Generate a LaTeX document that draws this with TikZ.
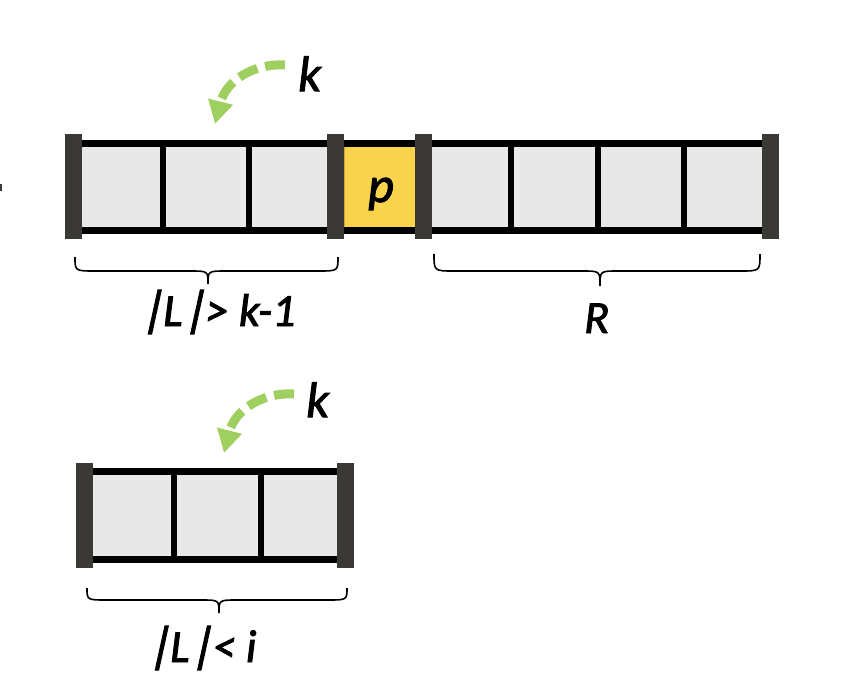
\documentclass[tikz,border=0pt]{standalone}
\usepackage{fontspec}
\setmainfont{Carlito}
\newfontface\lblface[FakeBold=2]{Carlito Italic}
\newfontface\barface[FakeSlant=0.22,FakeBold=2]{Carlito}
\usetikzlibrary{arrows.meta}
\definecolor{cellgray}{HTML}{E8E8E8}
\definecolor{bardark}{HTML}{3B3936}
\definecolor{pyellow}{HTML}{F8D34B}
\definecolor{pyellowdark}{HTML}{C8A63A}
\definecolor{agreen}{HTML}{9FD05F}
\begin{document}
\begin{tikzpicture}[x=1pt,y=-1pt,
 lbl/.style={font=\fontsize{46}{46}\selectfont\lblface, inner sep=0pt, anchor=base west},
 big/.style={font=\fontsize{50}{50}\selectfont\lblface, inner sep=0pt, anchor=base west},
 rail/.style={line width=7pt, black},
 divider/.style={line width=5.5pt, black},
 endbar/.style={fill=bardark},
 cell/.style={fill=cellgray},
 brc/.style={line width=1.6pt, black},
 garrow/.style={agreen, line width=9pt, dash pattern=on 20pt off 8pt, -{Triangle[length=23pt,width=24pt]}}
]
\useasboundingbox (0,0) rectangle (846,696);
% stray mark at the left edge
\fill[bardark] (0,184) rectangle (2,191);
% ---------- top array ----------
\fill[cell] (82,143) rectangle (327,230);
\filldraw[fill=pyellow, draw=pyellowdark, line width=0.8pt] (344,143) rectangle (415,230);
\fill[cell] (432,143) rectangle (762,230);
\draw[rail] (74,143) -- (770,143);
\draw[rail] (74,230) -- (770,230);
\foreach \x in {163,249,511,598,684} \draw[divider] (\x,143) -- (\x,230);
\fill[endbar] (65,134) rectangle (82,239);
\fill[endbar] (327,134) rectangle (344,239);
\fill[endbar] (415,134) rectangle (432,239);
\fill[endbar] (762,134) rectangle (779,239);
\node[big, anchor=base] (p) at (381,202) {p};
% arrow and k (top)
\node[big] (k1) at (298,91) {k};
\coordinate (a1s) at (285,65);
\coordinate (a1e) at (215,124);
\draw[garrow] (a1s) .. controls (255,63) and (226,80) .. (a1e);
% braces (top)
\draw[brc] (75,257) .. controls (75,271) .. (95,271) -- (190,271) .. controls (208,271) .. (208,284) .. controls (208,271) .. (226,271) -- (318,271) .. controls (338,271) .. (338,257);
\draw[brc] (434,254) .. controls (434,271) .. (454,271) -- (582,271) .. controls (600,271) .. (600,286) .. controls (600,271) .. (618,271) -- (740,271) .. controls (760,271) .. (760,254);
\node[lbl] (lbl1) at (140,326) {{\barface\fontsize{50}{50}\selectfont|}L{\barface\fontsize{50}{50}\selectfont|}> k-1};
\node[lbl] (R) at (584,333) {R};
% ---------- bottom array ----------
\fill[cell] (93,471.5) rectangle (337,559);
\draw[rail] (85,471.5) -- (345,471.5);
\draw[rail] (85,559) -- (345,559);
\foreach \x in {174,261} \draw[divider] (\x,471.5) -- (\x,559);
\fill[endbar] (76,463) rectangle (93,568);
\fill[endbar] (337,463) rectangle (354,568);
\node[big] (k2) at (306,417) {k};
\coordinate (a2s) at (294,394);
\coordinate (a2e) at (224,453);
\draw[garrow] (a2s) .. controls (264,392) and (235,409) .. (a2e);
\draw[brc] (87,588) .. controls (87,600) .. (107,600) -- (201,600) .. controls (219,600) .. (219,613) .. controls (219,600) .. (237,600) -- (327,600) .. controls (347,600) .. (347,588);
\node[lbl] (lbl2) at (147,662) {{\barface\fontsize{50}{50}\selectfont|}L{\barface\fontsize{50}{50}\selectfont|}< i};
\end{tikzpicture}
\end{document}
